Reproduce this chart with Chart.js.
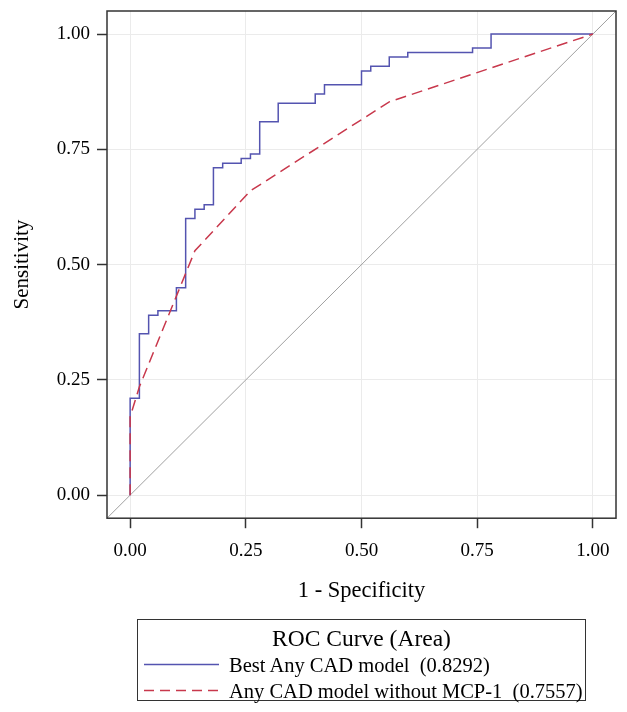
<!DOCTYPE html>
<html>
<head>
<meta charset="utf-8">
<script src="https://cdn.jsdelivr.net/npm/chart.js@4"></script>
<style>
  html, body { margin: 0; padding: 0; background: #ffffff; }
  #wrap { position: relative; width: 627px; height: 712px; }
  #c { position: absolute; left: 0; top: 0; }
  #legend {
    position: absolute; left: 137px; top: 619px; width: 449px; height: 82px;
    border: 1px solid #333; box-sizing: border-box;
    font-family: 'Liberation Serif', 'Times New Roman', serif; color: #000;
  }
  #legend .title { position: absolute; left: 0; right: 0; top: 5px; text-align: center; font-size: 23.5px; line-height: 26px; }
  #legend .item { position: absolute; left: 0; height: 24px; font-size: 20.5px; line-height: 24px; white-space: pre; }
  #legend .item svg { position: absolute; left: 6px; top: 11px; }
  #legend .item span { position: absolute; left: 91px; top: 1px; }
</style>
</head>
<body>
<div id="wrap">
  <canvas id="c" width="627" height="712"></canvas>
  <div id="legend"></div>
</div>
<script>
// ---- data ----
const fprBest = [0, 0, 0.02, 0.04, 0.06, 0.10, 0.12, 0.14, 0.16, 0.18, 0.20, 0.24, 0.26, 0.28, 0.32, 0.40, 0.42, 0.50, 0.52, 0.56, 0.60, 0.74, 0.78, 1.00];
const tprBest = [0, 0.21, 0.35, 0.39, 0.40, 0.45, 0.60, 0.62, 0.63, 0.71, 0.72, 0.73, 0.74, 0.81, 0.85, 0.87, 0.89, 0.92, 0.93, 0.95, 0.96, 0.97, 1.00, 1.00];
const fprNoMcp = [0, 0, 0.02, 0.14, 0.26, 0.56, 1.00];
const tprNoMcp = [0, 0.17, 0.235, 0.53, 0.66, 0.853, 1.00];
const diagX = [-0.05, 1.05];
const diagY = [-0.05, 1.05];
const tickValues = [0, 0.25, 0.50, 0.75, 1.00];
const seriesLabels = ['Best Any CAD model  (0.8292)', 'Any CAD model without MCP-1  (0.7557)'];
const legendTitle = 'ROC Curve (Area)';
const xTitle = '1 - Specificity';
const yTitle = 'Sensitivity';

const BLUE = '#5454b0';
const RED = '#c8384c';
const FONT = "'Liberation Serif', 'Times New Roman', serif";

const toPts = (xs, ys) => xs.map((x, i) => ({ x: x, y: ys[i] }));

const framePlugin = {
  id: 'frame',
  afterDraw(chart) {
    const a = chart.chartArea, ctx = chart.ctx;
    ctx.save();
    ctx.strokeStyle = '#333';
    ctx.lineWidth = 1.5;
    ctx.strokeRect(a.left, a.top, a.right - a.left, a.bottom - a.top);
    ctx.restore();
  }
};

const axisCommon = {
  type: 'linear', min: -0.05, max: 1.05,
  afterBuildTicks: (s) => { s.ticks = tickValues.map(v => ({ value: v })); },
  border: { display: false },
  grid: { color: '#ebebeb', lineWidth: 1, drawTicks: true, tickLength: 10, tickColor: '#333', tickWidth: 1.5 },
};

new Chart(document.getElementById('c'), {
  type: 'scatter',
  data: {
    datasets: [
      { label: seriesLabels[0], data: toPts(fprBest, tprBest), showLine: true, stepped: 'before',
        borderColor: BLUE, borderWidth: 1.5, pointRadius: 0, order: 2 },
      { label: seriesLabels[1], data: toPts(fprNoMcp, tprNoMcp), showLine: true,
        borderColor: RED, borderWidth: 1.5, borderDash: [11, 6], pointRadius: 0, order: 1 },
      { label: 'diag', data: toPts(diagX, diagY), showLine: true,
        borderColor: '#a0a0a0', borderWidth: 1, pointRadius: 0, order: 3 }
    ]
  },
  options: {
    responsive: false, animation: false,
    layout: { padding: { left: 0, top: 11, right: 11, bottom: 103.5 } },
    plugins: { legend: { display: false }, tooltip: { enabled: false } },
    scales: {
      x: Object.assign({}, axisCommon, {
        position: 'bottom',
        ticks: { padding: 11, color: '#000', font: { family: FONT, size: 19 }, callback: (v) => Number(v).toFixed(2), maxRotation: 0 },
        title: { display: true, text: xTitle, color: '#000', font: { family: FONT, size: 22.5 }, padding: { top: 4.5, bottom: 4 } }
      }),
      y: Object.assign({}, axisCommon, {
        position: 'left',
        afterFit: (s) => { s.width = 107; s.paddingTop = 0; s.paddingBottom = 0; },
        ticks: { padding: 7, color: '#000', font: { family: FONT, size: 19 }, callback: (v) => Number(v).toFixed(2) },
        title: { display: true, text: yTitle, color: '#000', font: { family: FONT, size: 21 }, padding: { top: 9.5, bottom: 4 } }
      })
    }
  },
  plugins: [framePlugin]
});

// ---- legend (HTML text) ----
const lg = document.getElementById('legend');
const t = document.createElement('div'); t.className = 'title'; t.textContent = legendTitle; lg.appendChild(t);
const styles = [{ c: BLUE, dash: '' }, { c: RED, dash: '10,6' }];
const tops = [32, 58];
seriesLabels.forEach((lab, i) => {
  const it = document.createElement('div'); it.className = 'item'; it.style.top = tops[i] + 'px';
  it.innerHTML = '<svg width="75" height="3"><line x1="0" y1="1.5" x2="75" y2="1.5" stroke="' + styles[i].c +
    '" stroke-width="1.5"' + (styles[i].dash ? ' stroke-dasharray="' + styles[i].dash + '"' : '') + '/></svg>';
  const s = document.createElement('span'); s.textContent = lab; it.appendChild(s);
  lg.appendChild(it);
});
</script>
</body>
</html>
